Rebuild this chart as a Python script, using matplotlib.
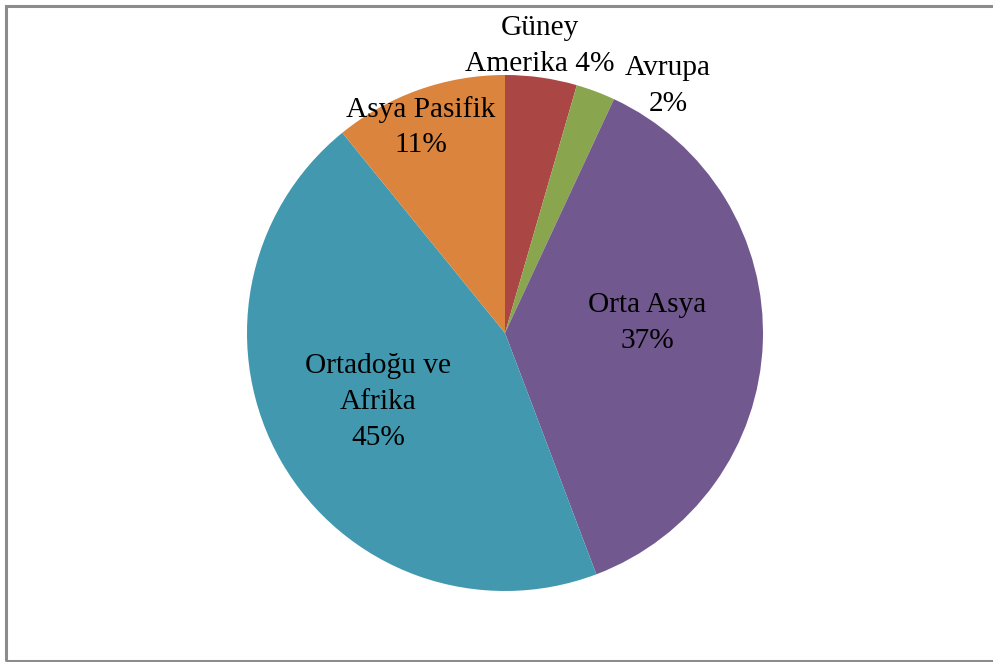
import matplotlib
matplotlib.use("Agg")
import matplotlib.pyplot as plt
from matplotlib.patches import Rectangle

# regional shares (%), clockwise from 12 o'clock
regions = ["Güney\nAmerika", "Avrupa", "Orta Asya", "Ortadoğu ve\nAfrika", "Asya Pasifik"]
shares = [4.49, 2.45, 37.3, 44.9, 10.86]
colors = ["#AA4643", "#89A54E", "#71588F", "#4198AF", "#DB843D"]

# label text layout (pixel coords, y measured from the top)
label_xy = [(540, 46), (668, 86), (647, 323), (378, 402), (421, 127)]
label_sep = [" ", "\n", "\n", "\n", "\n"]

W, H = 993, 662
fig = plt.figure(figsize=(W / 100, H / 100), dpi=100)
ax = fig.add_axes([0, 0, 1, 1])

ax.pie(shares, colors=colors, startangle=90, counterclock=False,
       center=(505, H - 333), radius=258, frame=True,
       wedgeprops=dict(linewidth=0))
ax.set_xlim(0, W)
ax.set_ylim(0, H)
ax.set_aspect("equal")
ax.axis("off")

for name, val, (x, y), sep in zip(regions, shares, label_xy, label_sep):
    ax.text(x, H - y, f"{name}{sep}{round(val)}%", ha="center", va="center",
            fontsize=21.2, family="Liberation Serif", linespacing=1.48,
            color="black")

# chart area border (right side runs off the canvas)
fig.patches.append(Rectangle((5.5 / W, 1.5 / H), 1.2, (H - 7) / H,
                             transform=fig.transFigure, fill=False,
                             edgecolor="#8c8c8c", linewidth=2.2))

fig.savefig("out.png", dpi=100)
